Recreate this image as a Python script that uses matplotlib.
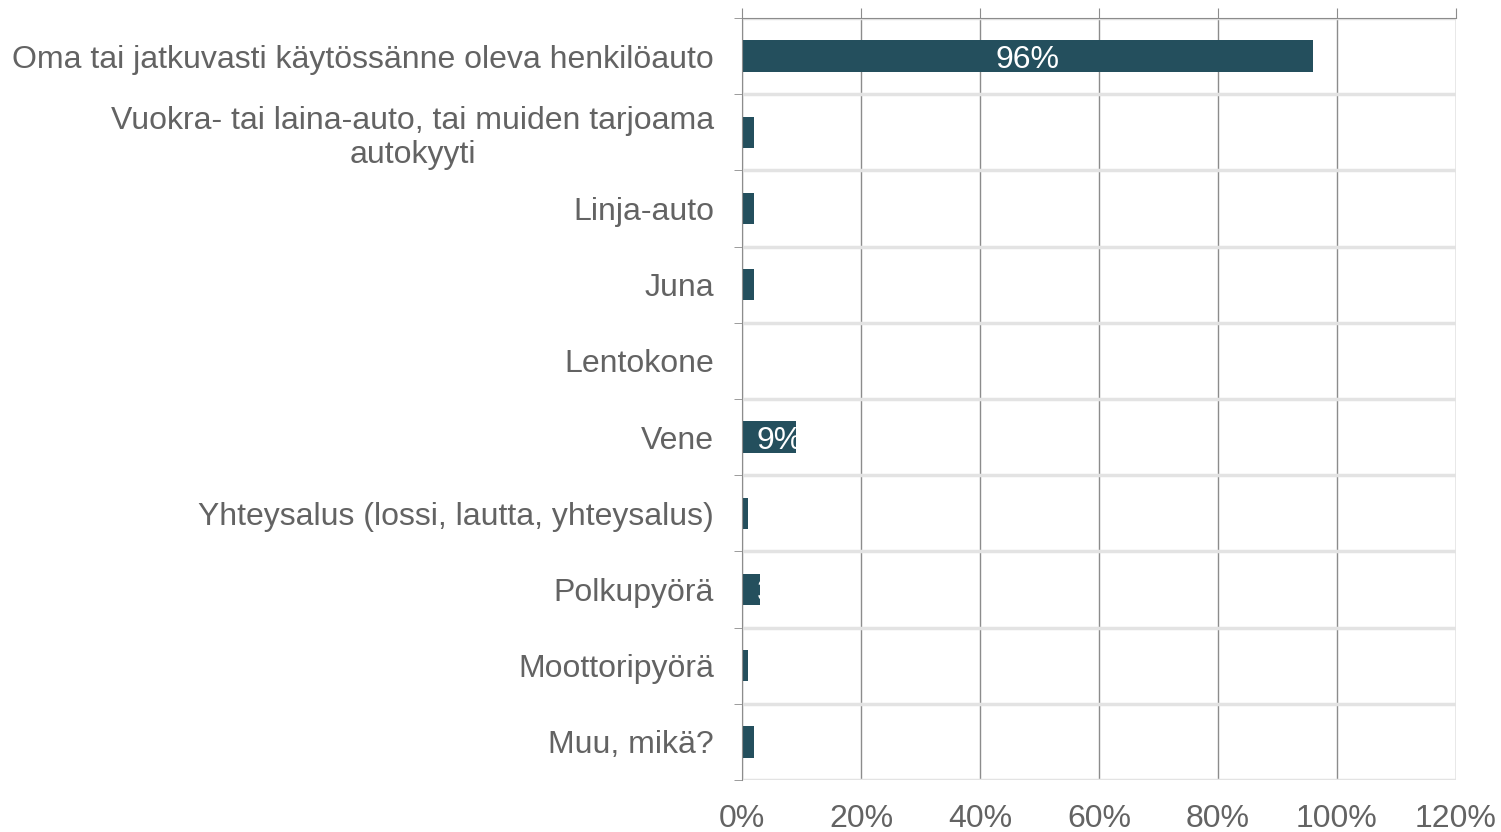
import matplotlib
matplotlib.use("Agg")
import matplotlib.pyplot as plt
import numpy as np

plt.rcParams['font.family'] = ['Liberation Sans', 'DejaVu Sans']

categories = [
    "Oma tai jatkuvasti käytössänne oleva henkilöauto",
    "Vuokra- tai laina-auto, tai muiden tarjoama\nautokyyti",
    "Linja-auto",
    "Juna",
    "Lentokone",
    "Vene",
    "Yhteysalus (lossi, lautta, yhteysalus)",
    "Polkupyörä",
    "Moottoripyörä",
    "Muu, mikä?",
]
values = [96, 2, 2, 2, 0, 9, 1, 3, 1, 2]
xticks = [0, 20, 40, 60, 80, 100, 120]

bar_col = "#244f5d"
txt_col = "#636363"
fs = 23

fig = plt.figure(figsize=(15.01, 8.32), dpi=100)
ax = fig.add_axes([742/1501, 1-780/832, (1456-742)/1501, (780-18)/832])

y = np.arange(len(categories))
bars = ax.barh(y, values, height=0.41, color=bar_col, zorder=3)

# value labels, white, clipped to the bar (small bars hide most of it)
for b, v in zip(bars, values):
    if v <= 0:
        continue
    xc = max(b.get_width()/2, 6.4)
    t = ax.text(xc, b.get_y() + b.get_height()/2, f"{v}%",
                ha="center", va="center_baseline", color="white", fontsize=fs, zorder=4)
    t.set_clip_path(b)

ax.set_xlim(0, 120)
ax.set_ylim(len(categories)-0.5, -0.5)

ax.set_xticks(xticks)
ax.set_xticklabels([f"{t}%" for t in xticks])
ax.tick_params(axis='x', top=True, bottom=False, labeltop=False, labelbottom=True,
               length=7, color="#8c8c8c", labelsize=fs, labelcolor=txt_col, pad=10)
ax.xaxis.grid(True, color="#8c8c8c", linewidth=1, zorder=1)

ax.set_yticks(y)
ax.set_yticklabels(categories, multialignment="center")
ax.set_yticks(np.arange(len(categories)+1) - 0.5, minor=True)
ax.tick_params(axis='y', which='major', length=0, labelsize=fs, labelcolor=txt_col, pad=20)
ax.tick_params(axis='y', which='minor', length=6, color="#8c8c8c")
ax.yaxis.grid(True, which='minor', color="#e3e3e3", linewidth=2.5, zorder=2)

for s in ["right", "bottom"]:
    ax.spines[s].set_visible(False)
ax.spines["top"].set_color("#8c8c8c")
ax.spines["left"].set_color("#8c8c8c")
ax.spines["left"].set_zorder(5)

fig.savefig("out.png", dpi=100)
